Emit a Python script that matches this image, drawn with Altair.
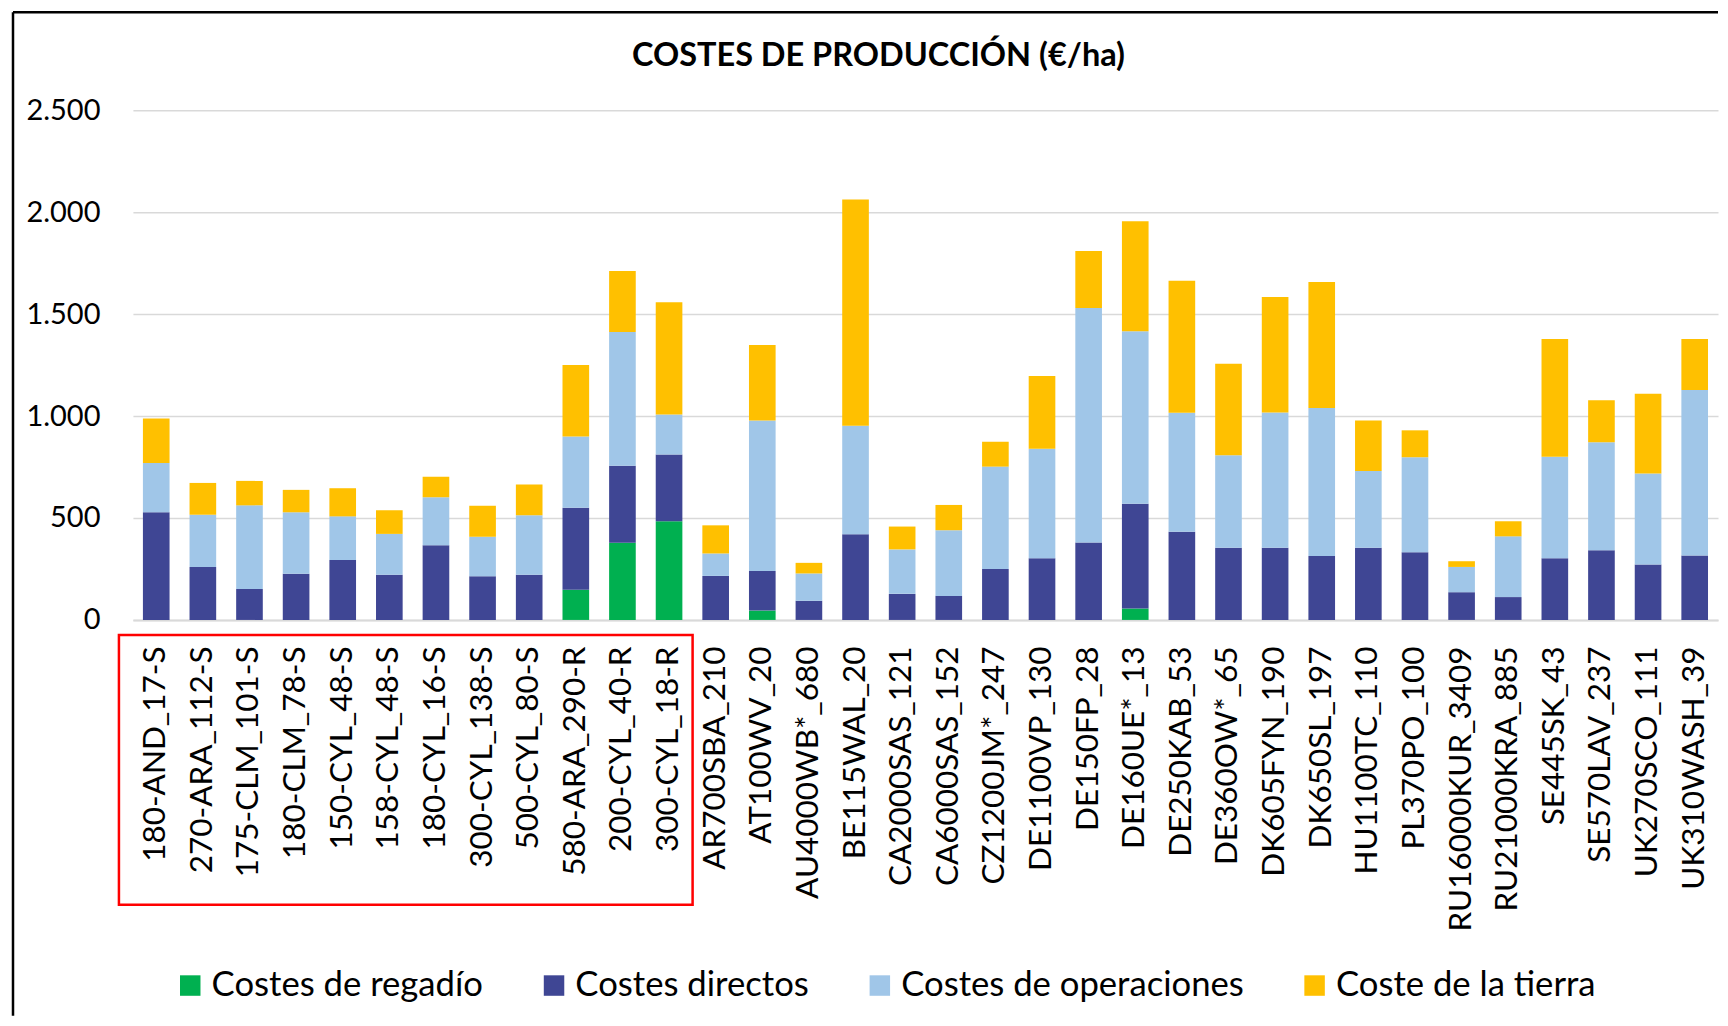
import altair as alt
import pandas as pd

categories = ["180-AND_17-S", "270-ARA_112-S", "175-CLM_101-S", "180-CLM_78-S", "150-CYL_48-S",
              "158-CYL_48-S", "180-CYL_16-S", "300-CYL_138-S", "500-CYL_80-S", "580-ARA_290-R",
              "200-CYL_40-R", "300-CYL_18-R", "AR700SBA_210", "AT100WV_20", "AU4000WB*_680",
              "BE115WAL_20", "CA2000SAS_121", "CA6000SAS_152", "CZ1200JM*_247", "DE1100VP_130",
              "DE150FP_28", "DE160UE*_13", "DE250KAB_53", "DE360OW*_65", "DK605FYN_190",
              "DK650SL_197", "HU1100TC_110", "PL370PO_100", "RU16000KUR_3409", "RU21000KRA_885",
              "SE445SK_43", "SE570LAV_237", "UK270SCO_111", "UK310WASH_39"]

regadio = [0, 0, 0, 0, 0, 0, 0, 0, 0, 148, 378, 484,
           0, 46, 0, 0, 0, 0, 0, 0, 0, 56, 0, 0, 0, 0, 0, 0, 0, 0, 0, 0, 0, 0]
directos = [528, 260, 152, 226, 294, 222, 366, 214, 222, 402, 378, 328,
            216, 194, 94, 420, 128, 118, 250, 302, 380, 514, 432, 354, 354, 314, 354, 332,
            136, 112, 302, 342, 272, 316]
operaciones = [242, 256, 410, 302, 214, 200, 236, 194, 292, 350, 656, 196,
               110, 738, 134, 532, 218, 322, 502, 538, 1150, 846, 584, 454, 664, 726, 376, 466,
               124, 298, 498, 530, 446, 812]
tierra = [218, 156, 120, 110, 138, 116, 100, 152, 150, 350, 300, 550,
          138, 370, 52, 1110, 112, 124, 122, 356, 280, 540, 648, 448, 566, 618, 248, 132,
          28, 74, 578, 206, 392, 250]

series_names = ["Costes de regadío", "Costes directos", "Costes de operaciones", "Coste de la tierra"]
series_colors = ["#00B050", "#3F4694", "#A0C6E8", "#FFC000"]
y_ticks = [0, 500, 1000, 1500, 2000, 2500]
title_text = "COSTES DE PRODUCCIÓN (€/ha)"

rows = []
for i, c in enumerate(categories):
    for k, vals in enumerate([regadio, directos, operaciones, tierra]):
        rows.append({"cat": c, "serie": series_names[k], "ord": k, "val": vals[i]})
df = pd.DataFrame(rows)

FONT = "Lato"
PW, PH = 1586, 510

bars = alt.Chart(df).mark_bar().encode(
    x=alt.X("cat:N", sort=categories,
            scale=alt.Scale(paddingInner=0.4286, paddingOuter=0.2143),
            axis=alt.Axis(title=None, labelAngle=270, labelAlign="right", labelBaseline="middle",
                          labelPadding=26, ticks=False, domainColor="#D9D9D9", domainWidth=2,
                          labelFontSize=31.5, labelFont=FONT, labelColor="black", labelLimit=500)),
    y=alt.Y("val:Q", stack="zero", scale=alt.Scale(domain=[0, 2500], nice=False),
            axis=alt.Axis(title=None, values=y_ticks,
                          labelExpr="replace(format(datum.value, ',d'), ',', '.')",
                          grid=True, gridColor="#D9D9D9", gridWidth=1.5, domain=False,
                          ticks=False, labelPadding=33, labelFontSize=29, labelFont=FONT,
                          labelColor="black")),
    color=alt.Color("serie:N", scale=alt.Scale(domain=series_names, range=series_colors),
                    legend=alt.Legend(title=None, orient="none", legendX=40, legendY=858,
                                      direction="horizontal", symbolType="square",
                                      symbolSize=420, symbolStrokeWidth=0, symbolOpacity=1,
                                      labelFontSize=34.7, labelFont=FONT, labelOffset=4,
                                      columnPadding=53, padding=0, labelColor="black",
                                      labelLimit=600)),
    order=alt.Order("ord:Q"),
)

one = pd.DataFrame({"a": [0]})
border_top = alt.Chart(one).mark_rule(color="black", strokeWidth=2.5).encode(
    x=alt.value(-120), x2=alt.value(PW), y=alt.value(-98))
border_left = alt.Chart(one).mark_rule(color="black", strokeWidth=2.5).encode(
    x=alt.value(-120), y=alt.value(-98), y2=alt.value(906))
red_box = alt.Chart(one).mark_rect(fillOpacity=0, stroke="#FF0000", strokeWidth=2.5).encode(
    x=alt.value(-14), x2=alt.value(560), y=alt.value(525), y2=alt.value(795))
title = alt.Chart(one).mark_text(text=title_text, font=FONT, fontSize=32.5, fontWeight="bold",
                                 color="black", align="center", baseline="alphabetic").encode(
    x=alt.value(746), y=alt.value(-44))

chart = alt.layer(bars, red_box, border_top, border_left, title).properties(
    width=PW, height=PH,
    padding={"left": 3, "top": 2, "right": 0, "bottom": 0},
).configure_view(stroke=None)

chart.save("out.html", embed_options={"renderer": "svg", "actions": False})
